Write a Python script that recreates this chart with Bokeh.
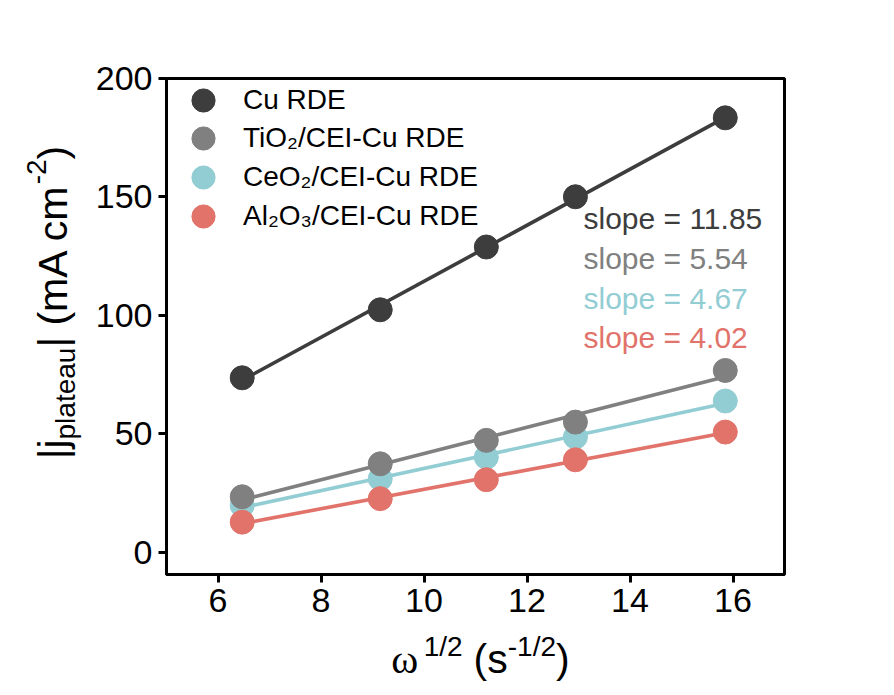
import numpy as np
from bokeh.plotting import figure
from bokeh.models import Legend, LegendItem, Label, FixedTicker, Range1d
from bokeh.layouts import row, column
from bokeh.embed import file_html
from bokeh.resources import INLINE

# ---------------- data ----------------
omega_sqrt = [6.47, 9.15, 11.21, 12.94, 15.85]
j_cu = [73.7, 102.4, 128.9, 150.1, 183.4]
j_tio2 = [23.5, 37.4, 47.3, 55.0, 76.8]
j_ceo2 = [19.8, 31.1, 40.2, 48.7, 63.9]
j_al2o3 = [12.8, 22.7, 30.7, 39.1, 50.8]
series_names = ["Cu RDE", "TiO\u2082/CEI-Cu RDE", "CeO\u2082/CEI-Cu RDE", "Al\u2082O\u2083/CEI-Cu RDE"]
slope_values = ["11.85", "5.54", "4.67", "4.02"]
x_ticks = [6, 8, 10, 12, 14, 16]
y_ticks = [0, 50, 100, 150, 200]

# ---------------- styles / layout ----------------
colors = ["#3d3d3d", "#808080", "#93cdd4", "#e1736b"]
W, H = 894, 695
LEFT_W = 90          # strip holding the y-axis title
MAIN_H = 632         # row holding the main plot
FL, FR, FT, FB = 166, 784, 78, 574   # frame edges in page pixels
X0, X1 = 5, 17
Y0, Y1 = -9.3, 200
SANS = "Liberation Sans"
SERIF = "Liberation Serif"
BASE_FIX = 0.35      # em offset between requested and drawn text baseline


def px_x(px):
    return X0 + (px - FL) * (X1 - X0) / (FR - FL)


def px_y(py):
    return Y1 - (py - FT) * (Y1 - Y0) / (FB - FT)


EM = {'|': 0.26, 'j': 0.222, 'p': 0.556, 'l': 0.222, 'a': 0.556, 't': 0.278,
      'e': 0.556, 'u': 0.556, ' ': 0.278, '(': 0.333, 'm': 0.833, 'A': 0.667,
      'c': 0.5, '-': 0.333, '2': 0.556, ')': 0.333, 's': 0.5, '1': 0.556,
      '/': 0.278, '\u03c9': 0.69}


def text_w(s, size):
    return sum(EM.get(ch, 0.556) for ch in s) * size


def blank_fig(w, h, y_range):
    f = figure(width=w, height=h, output_backend="svg", toolbar_location=None,
               x_range=Range1d(0, w), y_range=y_range,
               x_axis_type=None, y_axis_type=None, min_border=0,
               background_fill_color="white", border_fill_color="white")
    f.grid.visible = False
    f.outline_line_color = None
    return f


# ---------------- main plot ----------------
p = figure(width=W - LEFT_W, height=MAIN_H, output_backend="svg", toolbar_location=None,
           x_range=Range1d(X0, X1), y_range=Range1d(Y0, Y1),
           min_border_left=FL - LEFT_W, min_border_right=W - FR,
           min_border_top=FT, min_border_bottom=MAIN_H - FB,
           background_fill_color="white", border_fill_color="white")
p.xgrid.visible = False
p.ygrid.visible = False
p.outline_line_color = "black"
p.outline_line_width = 3
p.outline_line_alpha = 1

for ax, ticks in ((p.xaxis, x_ticks), (p.yaxis, y_ticks)):
    ax.ticker = FixedTicker(ticks=ticks)
    ax.axis_line_width = 3
    ax.major_tick_line_width = 3
    ax.major_tick_out = 8
    ax.major_tick_in = 0
    ax.minor_tick_line_color = None
    ax.major_label_text_font = SANS
    ax.major_label_text_font_size = "34px"
    ax.major_label_text_color = "black"
    ax.major_label_standoff = 6
    ax.axis_label = None

series = [j_cu, j_tio2, j_ceo2, j_al2o3]
x_arr = np.array(omega_sqrt)

# fitted lines
for ys, c in zip(series, colors):
    k, b = np.polyfit(x_arr, np.array(ys), 1)
    xs = [x_arr[0], x_arr[-1]]
    p.line(xs, [k * v + b for v in xs], line_color=c, line_width=3.6)

# points (draw order: CeO2, Al2O3, TiO2, Cu)
renderers = {}
for idx in (2, 3, 1, 0):
    renderers[idx] = p.scatter(omega_sqrt, series[idx], size=24, marker="circle",
                               fill_color=colors[idx], line_color=colors[idx])

# legend: one single-item legend per row so the row pitch can be tighter than the glyph box
legend_centers = [100, 138, 177, 216]
GLYPH = 58
for i, cy in enumerate(legend_centers):
    lg = Legend(items=[LegendItem(label=series_names[i], renderers=[renderers[i]])],
                location=(8, FB - cy - GLYPH / 2), glyph_width=GLYPH, glyph_height=GLYPH,
                spacing=0, padding=0, margin=0, label_standoff=11,
                label_text_font=SANS, label_text_font_size="28px", label_text_color="black",
                border_line_color=None, background_fill_alpha=0)
    p.add_layout(lg)

# slope annotations
SLOPE_FS = 30
slope_baselines = [228, 268, 308, 347]
for sv, c, by in zip(slope_values, colors, slope_baselines):
    p.add_layout(Label(x=px_x(583), y=px_y(by - BASE_FIX * SLOPE_FS), text="slope = " + sv,
                       text_font=SANS, text_font_size=f"{SLOPE_FS}px", text_color=c,
                       text_align="left", text_baseline="alphabetic"))

MAIN, SMALL = 41, 28

# ---------------- y-axis title strip ----------------
# its frame is aligned with the main frame (page y 78..574); data y = -page y
left = blank_fig(LEFT_W, MAIN_H, Range1d(-FB, -FT))
y_pieces = [("|j", MAIN, 67), ("plateau", SMALL, 75), ("| (mA cm", MAIN, 67), ("-2", SMALL, 46), (")", MAIN, 67)]
total_y = sum(text_w(t, s) for t, s, b in y_pieces)
cy = 302 + total_y / 2
for t, s, bx in y_pieces:
    w = text_w(t, s)
    left.add_layout(Label(x=bx - BASE_FIX * s, y=-(cy - w / 2), text=t, angle=np.pi / 2,
                          text_font=SANS, text_font_size=f"{s}px", text_color="black",
                          text_align="center", text_baseline="middle"))
    cy -= w

# ---------------- x-axis title strip ----------------
BOT_H = H - MAIN_H
bottom = blank_fig(W, BOT_H, Range1d(0, BOT_H))
# (text, size, font, rise, gap before)
x_pieces = [("\u03c9", MAIN, SERIF, 0, 0), ("1/2", SMALL, SANS, 17, 4), ("(s", MAIN, SANS, 0, 11),
            ("-1/2", SMALL, SANS, 17, 0), (")", MAIN, SANS, 0, 0)]
total = sum(text_w(t, s) + g for t, s, f, r, g in x_pieces)
cx = 480 - total / 2
base = 673
for t, s, f, r, g in x_pieces:
    cx += g
    bottom.add_layout(Label(x=cx, y=H - (base - r - BASE_FIX * s), text=t, text_font=f,
                            text_font_size=f"{s}px", text_color="black",
                            text_align="left", text_baseline="alphabetic"))
    cx += text_w(t, s)

layout = column(row(left, p, spacing=0), bottom, spacing=0)
open("out.html", "w").write(file_html(layout, INLINE))
